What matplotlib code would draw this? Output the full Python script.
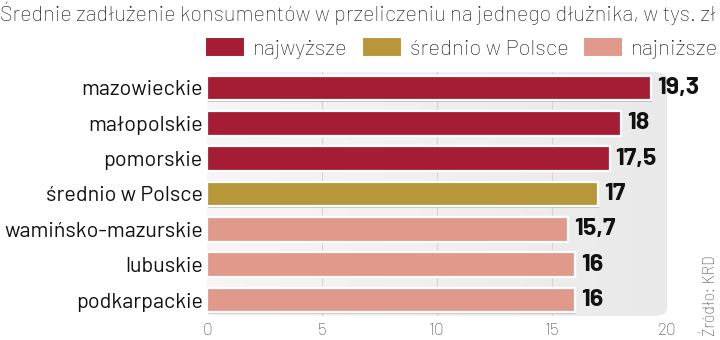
import numpy as np
import matplotlib
matplotlib.use('Agg')
import matplotlib.pyplot as plt
from matplotlib.patches import Patch, FancyBboxPatch
import matplotlib.patheffects as pe

# --- data ---
regions = ['mazowieckie', 'małopolskie', 'pomorskie', 'średnio w Polsce',
           'wamińsko-mazurskie', 'lubuskie', 'podkarpackie']
debt = [19.3, 18, 17.5, 17, 15.7, 16, 16]
debt_labels = ['19,3', '18', '17,5', '17', '15,7', '16', '16']
group = ['high', 'high', 'high', 'avg', 'low', 'low', 'low']
group_names = {'high': 'najwyższe', 'avg': 'średnio w Polsce', 'low': 'najniższe'}
group_colors = {'high': '#a51d35', 'avg': '#b8963a', 'low': '#e0998a'}
xticks = [0, 5, 10, 15, 20]

semi = ['Barlow Semi Condensed', 'DejaVu Sans']
reg = ['Barlow', 'DejaVu Sans']

fig = plt.figure(figsize=(7.2, 3.4), dpi=100)
ax = fig.add_axes([207/720, 1-316/340, 460/720, 244/340])
ax.set_xlim(0, 20)
ax.set_ylim(6.45, -0.45)

# grey rounded panel with a slight gradient
panel = FancyBboxPatch((0, 0), 1, 1, boxstyle='round,pad=0,rounding_size=0.03',
                       transform=ax.transAxes, facecolor='none', edgecolor='none')
ax.add_patch(panel)
grad = np.linspace(0, 1, 256).reshape(1, -1)
im = ax.imshow(grad, extent=[0, 20, 6.45, -0.45], aspect='auto',
               cmap=matplotlib.colors.LinearSegmentedColormap.from_list('g', ['#f6f6f6', '#e9e9e9']),
               zorder=0)
im.set_clip_path(panel)

for xv in xticks[1:-1]:
    ax.axvline(xv, color='#d4d4d4', lw=0.8, zorder=1)

y = np.arange(len(regions))
cols = [group_colors[g] for g in group]
bars = ax.barh(y, debt, height=0.7, color=cols, edgecolor='white', linewidth=1.6,
               zorder=2)
for b in bars:
    b.set_joinstyle('round')
    b.set_path_effects([pe.withSimplePatchShadow(offset=(1, -1), alpha=0.25), pe.Normal()])

for yi, v, lab in zip(y, debt, debt_labels):
    ax.text(v + 0.25, yi, lab, va='center', ha='left', fontsize=18, fontweight='bold',
            family=reg, color='#111111', zorder=3)

ax.set_yticks(y)
ax.set_yticklabels(regions, fontsize=15.5, color='#111111', family=reg)
ax.set_xticks(xticks)
ax.set_xticklabels([str(t) for t in xticks], fontsize=12.5, color='#444444', family=reg,
                   fontweight='light')
ax.tick_params(length=0, pad=5)
ax.tick_params(axis='y', pad=3)
for s in ax.spines.values():
    s.set_visible(False)

fig.text(0.0, 0.962, 'Średnie zadłużenie konsumentów w przeliczeniu na jednego dłużnika, w tys. zł',
         fontsize=15.6, family=reg, fontweight='light', color='#222222', va='center', ha='left')

handles = [Patch(facecolor=group_colors[k], edgecolor='white', linewidth=1.5) for k in ['high', 'avg', 'low']]
leg = fig.legend(handles, [group_names[k] for k in ['high', 'avg', 'low']], ncol=3,
                 loc='center right', bbox_to_anchor=(718/720, 1-48/340), frameon=False,
                 prop={'family': reg, 'size': 16, 'weight': 'light'}, borderpad=0, borderaxespad=0,
                 handlelength=1.8, handleheight=0.95, columnspacing=0.65, handletextpad=0.35)
for t in leg.get_texts():
    t.set_color('#222222')

fig.text(711/720, 1-296/340, 'Źródło: KRD', rotation=90, fontsize=13, color='#555555',
         va='center', ha='center', family=semi, fontweight='light')

fig.savefig('out.png', dpi=100)
